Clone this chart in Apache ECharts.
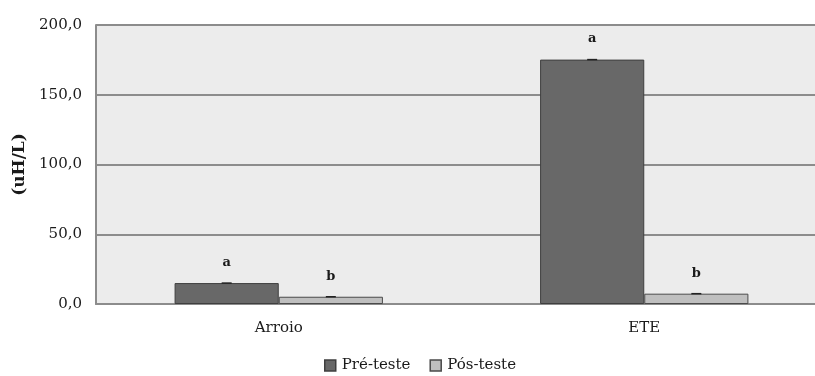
<!DOCTYPE html>
<html>
<head>
<meta charset="utf-8">
<style>
  html, body { margin: 0; padding: 0; background: #ffffff; }
  #chart { width: 815px; height: 376px; }
</style>
<script src="https://cdn.jsdelivr.net/npm/echarts@6/dist/echarts.min.js"></script>
</head>
<body>
<div id="chart"></div>
<script>
// Sites sampled and the two test moments
const categories = ['Arroio', 'ETE'];
const preTeste = [15.0, 175.2];
const posTeste = [5.2, 7.4];
// Significance letters shown above each bar
const preLetters = ['a', 'a'];
const posLetters = ['b', 'b'];
const yTicks = { min: 0, max: 200, interval: 50 };

const SERIF = '"DejaVu Serif", "Liberation Serif", serif';
const BAR_FRACTION = 0.285;

const chart = echarts.init(document.getElementById('chart'), null, { renderer: 'canvas' });

// Short dark cap at the top of each bar
function capSeries(values, side) {
  return {
    type: 'custom',
    silent: true,
    z: 5,
    data: values.map((v, i) => [i, v]),
    renderItem: function (params, api) {
      const pt = api.coord([api.value(0), api.value(1)]);
      const band = api.size([1, 0])[0];
      const bw = band * BAR_FRACTION;
      const cx = pt[0] + side * bw / 2;
      return {
        type: 'line',
        shape: { x1: cx - 5, y1: pt[1], x2: cx + 5, y2: pt[1] },
        style: { stroke: '#222222', lineWidth: 1.5 }
      };
    }
  };
}

function barLabel(letters) {
  return {
    show: true,
    position: 'top',
    distance: 14,
    formatter: p => letters[p.dataIndex],
    fontFamily: SERIF,
    fontWeight: 'bold',
    fontSize: 13,
    color: '#1a1a1a'
  };
}

chart.setOption({
  animation: false,
  backgroundColor: '#ffffff',
  grid: {
    left: 96, width: 731, top: 25, bottom: 72,
    outerBoundsMode: 'none',
    containLabel: false,
    show: true,
    backgroundColor: '#ececec',
    borderWidth: 0
  },
  legend: {
    top: 356,
    left: 322,
    padding: [2, 2, 2, 2],
    icon: 'rect',
    itemWidth: 11,
    itemHeight: 11,
    itemGap: 19,
    data: ['Pré-teste', 'Pós-teste'],
    itemStyle: { borderWidth: 1.5 },
    textStyle: { fontFamily: SERIF, fontSize: 15, color: '#1a1a1a', padding: [0, 0, 0, 1] }
  },
  xAxis: {
    type: 'category',
    data: categories,
    axisLine: { show: true, lineStyle: { color: '#8c8c8c', width: 2 } },
    axisTick: { show: false },
    axisLabel: { fontFamily: SERIF, fontSize: 15, color: '#1a1a1a', margin: 17 }
  },
  yAxis: {
    type: 'value',
    min: yTicks.min,
    max: yTicks.max,
    interval: yTicks.interval,
    name: '(uH/L)',
    nameLocation: 'middle',
    nameGap: 64,
    nameRotate: 90,
    nameTextStyle: { fontFamily: SERIF, fontSize: 17, fontWeight: 'bold', color: '#1a1a1a' },
    axisLine: { show: true, lineStyle: { color: '#8c8c8c', width: 2 } },
    axisTick: { show: false },
    splitLine: { show: true, lineStyle: { color: '#8c8c8c', width: 2 } },
    axisLabel: {
      fontFamily: SERIF, fontSize: 15, color: '#1a1a1a', margin: 14,
      formatter: v => v.toFixed(1).replace('.', ',')
    }
  },
  series: [
    {
      name: 'Pré-teste',
      type: 'bar',
      data: preTeste,
      barWidth: (BAR_FRACTION * 100) + '%',
      barGap: '0%',
      itemStyle: { color: '#686868', borderColor: '#3f3f3f', borderWidth: 1 },
      label: barLabel(preLetters)
    },
    {
      name: 'Pós-teste',
      type: 'bar',
      data: posTeste,
      barWidth: (BAR_FRACTION * 100) + '%',
      barGap: '0%',
      itemStyle: { color: '#bfbfbf', borderColor: '#4a4a4a', borderWidth: 1 },
      label: barLabel(posLetters)
    },
    capSeries(preTeste, -1),
    capSeries(posTeste, 1)
  ]
});
</script>
</body>
</html>
